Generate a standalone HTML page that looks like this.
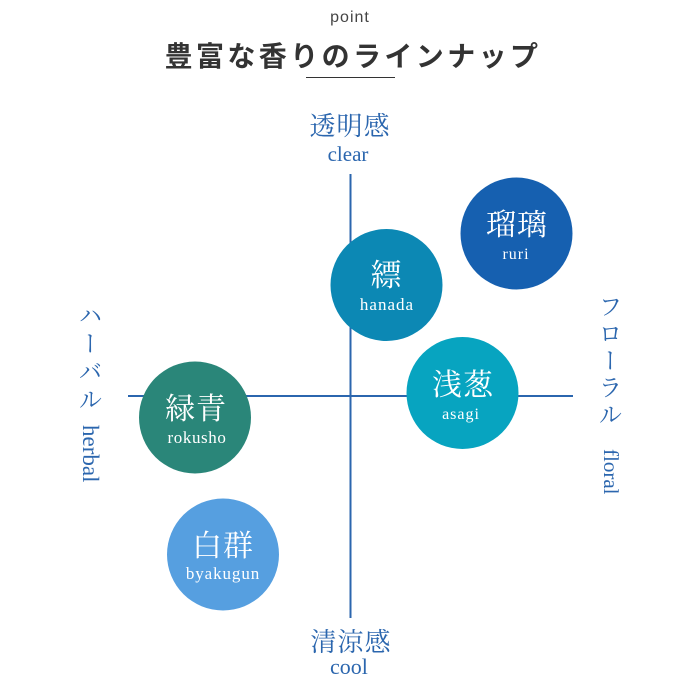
<!DOCTYPE html>
<html lang="ja">
<head>
<meta charset="utf-8">
<style>
html,body{margin:0;padding:0;background:#fff}
#p{position:relative;width:700px;height:700px;overflow:hidden;background:#fff}
.v{position:absolute;writing-mode:vertical-rl;white-space:nowrap;color:#2b66ae;line-height:1;font-family:"Liberation Serif","Noto Serif CJK JP",serif}
svg{position:absolute;left:0;top:0}
.s{font-family:"Liberation Serif","Noto Serif CJK JP",serif;text-anchor:middle}
</style>
</head>
<body>
<div id="p">
<svg width="700" height="700" viewBox="0 0 700 700">
<text x="350" y="22" text-anchor="middle" font-family="'Liberation Sans',sans-serif" font-size="16" letter-spacing="1" fill="#444">point</text>
<text x="353" y="66" text-anchor="middle" font-family="'Liberation Sans','Noto Sans CJK JP',sans-serif" font-size="28" font-weight="700" letter-spacing="3.4" fill="#333">豊富な香りのラインナップ</text>
<rect x="306" y="77" width="89" height="1" fill="#333"/>
<rect x="349.5" y="174" width="2" height="444" fill="#2b66ae"/>
<rect x="128" y="395" width="445" height="2" fill="#2b66ae"/>
<circle cx="516.5" cy="233.5" r="56" fill="#1660b0"/>
<circle cx="386.5" cy="285" r="56" fill="#0c88b4"/>
<circle cx="462.5" cy="393" r="56" fill="#07a4c0"/>
<circle cx="195" cy="417.5" r="56" fill="#2a8679"/>
<circle cx="223" cy="554.5" r="56" fill="#569fe0"/>
<g class="s" fill="#2b66ae">
<text x="350" y="135" font-size="26" letter-spacing="1">透明感</text>
<text x="348" y="161" font-size="21">clear</text>
<text x="351" y="651" font-size="26" letter-spacing="1">清涼感</text>
<text x="349" y="674" font-size="22">cool</text>
</g>
<g class="s" fill="#fff">
<text x="517" y="235" font-size="30" letter-spacing="1">瑠璃</text>
<text x="516" y="259" font-size="16" letter-spacing="1">ruri</text>
<text x="386" y="286" font-size="31">縹</text>
<text x="387" y="310" font-size="17" letter-spacing="1">hanada</text>
<text x="463" y="395" font-size="30" letter-spacing="1">浅葱</text>
<text x="461" y="419" font-size="16" letter-spacing="1">asagi</text>
<text x="196" y="419" font-size="30" letter-spacing="1">緑青</text>
<text x="197" y="443" font-size="17" letter-spacing="0.6">rokusho</text>
<text x="223" y="556" font-size="30" letter-spacing="1">白群</text>
<text x="223" y="579" font-size="17" letter-spacing="0.9">byakugun</text>
</g>
</svg>
<div class="v" style="left:75px;top:303px;font-size:24px;letter-spacing:4px">ハーバル</div>
<div class="v" style="left:79px;top:425px;font-size:23px">herbal</div>
<div class="v" style="left:595px;top:294px;font-size:24px;letter-spacing:3px">フローラル</div>
<div class="v" style="left:600px;top:449px;font-size:21px">floral</div>
</div>
</body>
</html>
